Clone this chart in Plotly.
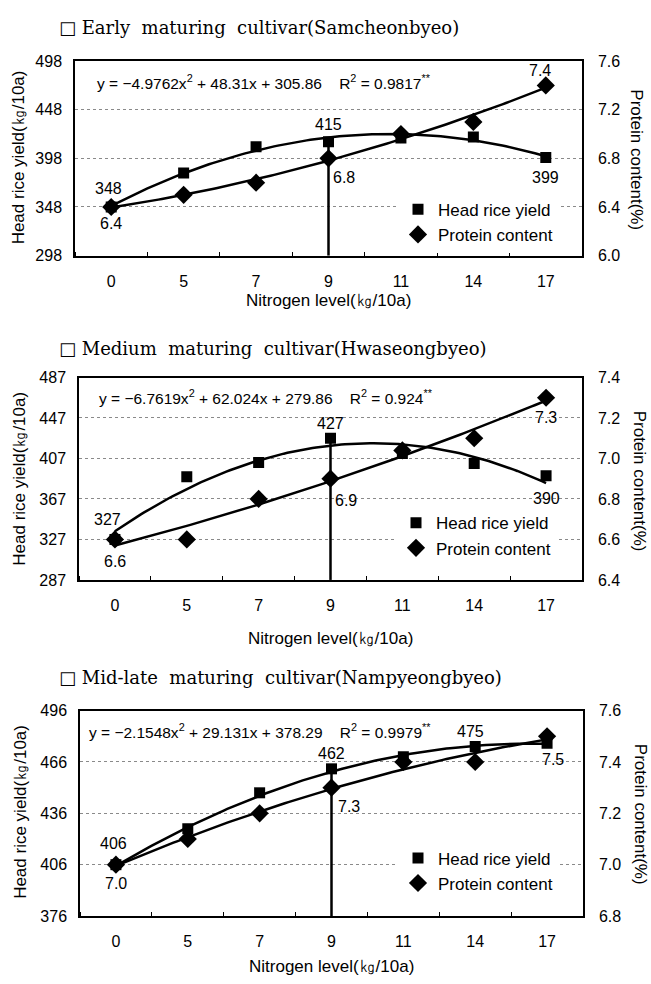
import numpy as np
import plotly.graph_objects as go

# ---------------- data ----------------
nitrogen_levels = ["0", "5", "7", "9", "11", "14", "17"]

panel_titles = [
    "□ Early  maturing  cultivar(Samcheonbyeo)",
    "□ Medium  maturing  cultivar(Hwaseongbyeo)",
    "□ Mid-late  maturing  cultivar(Nampyeongbyeo)",
]

head_early = [348, 383, 410, 415, 419, 420, 399]
protein_early = [6.4, 6.5, 6.6, 6.8, 7.0, 7.1, 7.4]
head_medium = [327, 389, 403, 427, 412, 402, 390]
protein_medium = [6.6, 6.6, 6.8, 6.9, 7.04, 7.1, 7.3]
head_midlate = [406, 427, 448, 462, 469, 475, 477]
protein_midlate = [7.0, 7.1, 7.2, 7.3, 7.4, 7.4, 7.5]

# quadratic trend coefficients shown on the chart (a, b, c) and R²
eq_early = [-4.9762, 48.31, 305.86]
eq_medium = [-6.7619, 62.024, 279.86]
eq_midlate = [-2.1548, 29.131, 378.29]
r2_early, r2_medium, r2_midlate = "0.9817", "0.924", "0.9979"

left_ticks_early = [298, 348, 398, 448, 498]
left_ticks_medium = [287, 327, 367, 407, 447, 487]
left_ticks_midlate = [376, 406, 436, 466, 496]
right_ticks_early = [6.0, 6.4, 6.8, 7.2, 7.6]
right_ticks_medium = [6.4, 6.6, 6.8, 7.0, 7.2, 7.4]
right_ticks_midlate = [6.8, 7.0, 7.2, 7.4, 7.6]

# ---------------- styling ----------------
SANS = "Liberation Sans, Arial, sans-serif"
SERIF = "DejaVu Serif, Liberation Serif, serif"
W, H = 651, 984
NB = "\u00a0"

def fmt_eq(c, r2):
    def num(v):
        return ("−" if v < 0 else "") + f"{abs(v):g}"
    s = (f"y{NB}={NB}{num(c[0])}x<sup>2</sup>{NB}+{NB}{num(c[1])}x{NB}+{NB}{num(c[2])}"
         f"{NB}{NB}{NB}{NB}R<sup>2</sup>{NB}={NB}{r2}<sup>**</sup>")
    return s

panels = [
    dict(title=panel_titles[0], head=head_early, protein=protein_early, eq=eq_early, r2=r2_early,
         lt=left_ticks_early, rt=right_ticks_early,
         px=(75, 582), py=(54, 252), title_y=20, ytitle_l=(18, 152), ytitle_r=(637, 154), xtitle_y=298,
         eq_pos=(95, 75), legend_pos=(398, 218),
         labels=[("h", 0, -3, 18), ("p", 0, 0, -17), ("h", 3, 0, 17), ("p", 3, 15, -19),
                 ("p", 6, -6, 15), ("h", 6, 0, -20)]),
    dict(title=panel_titles[1], head=head_medium, protein=protein_medium, eq=eq_medium, r2=r2_medium,
         lt=left_ticks_medium, rt=right_ticks_medium,
         px=(79, 582), py=(376, 582), title_y=346, ytitle_l=(20, 479), ytitle_r=(639, 481), xtitle_y=642,
         eq_pos=(97, 396), legend_pos=(396, 537),
         labels=[("h", 0, -7, 20), ("p", 0, 0, -22), ("h", 3, 0, 15), ("p", 3, 15, -22),
                 ("p", 6, 0, -20), ("h", 6, 0, -23)]),
    dict(title=panel_titles[2], head=head_midlate, protein=protein_midlate, eq=eq_midlate, r2=r2_midlate,
         lt=left_ticks_midlate, rt=right_ticks_midlate,
         px=(80, 583), py=(715, 924), title_y=681, ytitle_l=(21, 818), ytitle_r=(640, 820), xtitle_y=975,
         eq_pos=(87, 736), legend_pos=(398, 878),
         labels=[("h", 0, -2, 21), ("p", 0, 0, -19), ("h", 3, 0, 15), ("p", 3, 17, -19),
                 ("h", 5, -5, 15), ("p", 6, 6, -23)]),
]

fig = go.Figure()
layout = dict(width=W, height=H, margin=dict(l=0, r=0, t=0, b=0),
              paper_bgcolor="white", plot_bgcolor="white", showlegend=True)
annotations = []
idx = np.arange(len(nitrogen_levels))
xs = np.linspace(0, len(nitrogen_levels) - 1, 121)

for i, p in enumerate(panels):
    xa = "x" if i == 0 else f"x{i+1}"
    yl = "y" if i == 0 else f"y{2*i+1}"
    yr = f"y{2*i+2}"
    xa_name = "xaxis" if i == 0 else f"xaxis{i+1}"
    yl_name = "yaxis" if i == 0 else f"yaxis{2*i+1}"
    yr_name = f"yaxis{2*i+2}"
    lg = "legend" if i == 0 else f"legend{i+1}"

    c = p["eq"]
    t = xs + 1
    head_fit = c[0] * t ** 2 + c[1] * t + c[2]
    pc = np.polyfit(idx, p["protein"], 2)
    prot_fit = np.polyval(pc, xs)

    line = dict(color="black", width=2.5)
    fig.add_trace(go.Scatter(x=xs, y=head_fit, mode="lines", line=line, xaxis=xa, yaxis=yl,
                             showlegend=False, hoverinfo="skip"))
    fig.add_trace(go.Scatter(x=[3, 3], y=[p["lt"][0], p["head"][3]], mode="lines", line=line,
                             xaxis=xa, yaxis=yl, showlegend=False, hoverinfo="skip"))
    fig.add_trace(go.Scatter(x=idx, y=p["head"], mode="markers", name="Head rice yield",
                             marker=dict(symbol="square", size=11, color="black"),
                             xaxis=xa, yaxis=yl, legend=lg, legendgroup=f"h{i}"))
    fig.add_trace(go.Scatter(x=xs, y=prot_fit, mode="lines", line=line, xaxis=xa, yaxis=yr,
                             showlegend=False, hoverinfo="skip"))
    fig.add_trace(go.Scatter(x=idx, y=p["protein"], mode="markers", name="Protein content",
                             marker=dict(symbol="diamond", size=14, color="black"),
                             xaxis=xa, yaxis=yr, legend=lg, legendgroup=f"p{i}"))

    xd = [p["px"][0] / W, p["px"][1] / W]
    yd = [1 - p["py"][1] / H, 1 - p["py"][0] / H]
    tickfont = dict(family=SANS, size=16, color="black")
    layout[xa_name] = dict(
        domain=xd, anchor=yl, range=[-0.5, len(nitrogen_levels) - 0.5],
        tickmode="array", tickvals=list(idx), ticktext=nitrogen_levels, ticks="",
        showgrid=False, zeroline=False, showline=True, mirror=True,
        linecolor="black", linewidth=1.5, tickfont=tickfont, ticklabelstandoff=10,
        minor=dict(tickmode="array", tickvals=[k - 0.5 for k in range(len(nitrogen_levels) + 1)],
                   ticks="inside", ticklen=4, tickcolor="black", showgrid=False),
    )
    layout[yl_name] = dict(
        domain=yd, anchor=xa, range=[p["lt"][0], p["lt"][-1]],
        tickmode="array", tickvals=p["lt"], ticks="",
        showgrid=True, gridcolor="#8a8a8a", griddash="dot", gridwidth=1,
        zeroline=False, showline=True, mirror=True, linecolor="black", linewidth=1.5,
        tickfont=tickfont, ticklabelstandoff=8,
    )
    layout[yr_name] = dict(
        domain=yd, anchor=xa, overlaying=yl, side="right",
        range=[p["rt"][0], p["rt"][-1]], tickmode="array", tickvals=p["rt"],
        ticktext=[f"{v:.1f}" for v in p["rt"]], ticks="", showgrid=False, zeroline=False,
        showline=True, linecolor="black", linewidth=1.5, tickfont=tickfont, ticklabelstandoff=11,
    )
    layout[lg] = dict(
        x=p["legend_pos"][0] / W, y=1 - p["legend_pos"][1] / H, xanchor="left", yanchor="middle",
        bgcolor="white", borderwidth=0, font=dict(family=SANS, size=17, color="black"),
        tracegroupgap=0, itemwidth=30,
    )

    # panel title
    annotations.append(dict(text=p["title"].replace("  ", NB + NB).replace(" ", NB),
                            xref="paper", yref="paper", x=57 / W, y=1 - p["title_y"] / H,
                            xanchor="left", yanchor="middle", showarrow=False,
                            font=dict(family=SERIF, size=18, color="black")))
    # axis titles
    annotations.append(dict(text="Head rice yield(㎏/10a)", xref="paper", yref="paper",
                            x=p["ytitle_l"][0] / W, y=1 - p["ytitle_l"][1] / H, textangle=-90,
                            xanchor="center", yanchor="middle", showarrow=False,
                            font=dict(family=SANS, size=17, color="black")))
    annotations.append(dict(text="Protein content(%)", xref="paper", yref="paper",
                            x=p["ytitle_r"][0] / W, y=1 - p["ytitle_r"][1] / H, textangle=90,
                            xanchor="center", yanchor="middle", showarrow=False,
                            font=dict(family=SANS, size=17, color="black")))
    annotations.append(dict(text="Nitrogen level(㎏/10a)", xref="paper", yref="paper",
                            x=(p["px"][0] + p["px"][1]) / 2 / W, y=1 - p["xtitle_y"] / H,
                            xanchor="center", yanchor="middle", showarrow=False,
                            font=dict(family=SANS, size=17, color="black")))
    # equation
    annotations.append(dict(text=fmt_eq(p["eq"], p["r2"]), xref="paper", yref="paper",
                            x=p["eq_pos"][0] / W, y=1 - p["eq_pos"][1] / H,
                            xanchor="left", yanchor="middle", showarrow=False,
                            font=dict(family=SANS, size=15.5, color="black")))
    # data labels
    for series, k, dx, dy in p["labels"]:
        if series == "h":
            txt, yref, yv = f"{p['head'][k]:.0f}", yl, p["head"][k]
        else:
            txt, yref, yv = f"{p['protein'][k]:.1f}", yr, p["protein"][k]
        annotations.append(dict(text=txt, xref=xa, yref=yref, x=int(idx[k]), y=yv,
                                xshift=dx, yshift=dy, showarrow=False,
                                xanchor="center", yanchor="middle",
                                font=dict(family=SANS, size=16, color="black")))

layout["annotations"] = annotations
fig.update_layout(**layout)
fig.write_html("out.html", config={"displayModeBar": False},
               post_script="document.body.style.margin='0';document.body.style.padding='0';"
                           "document.documentElement.style.overflow='hidden';")
